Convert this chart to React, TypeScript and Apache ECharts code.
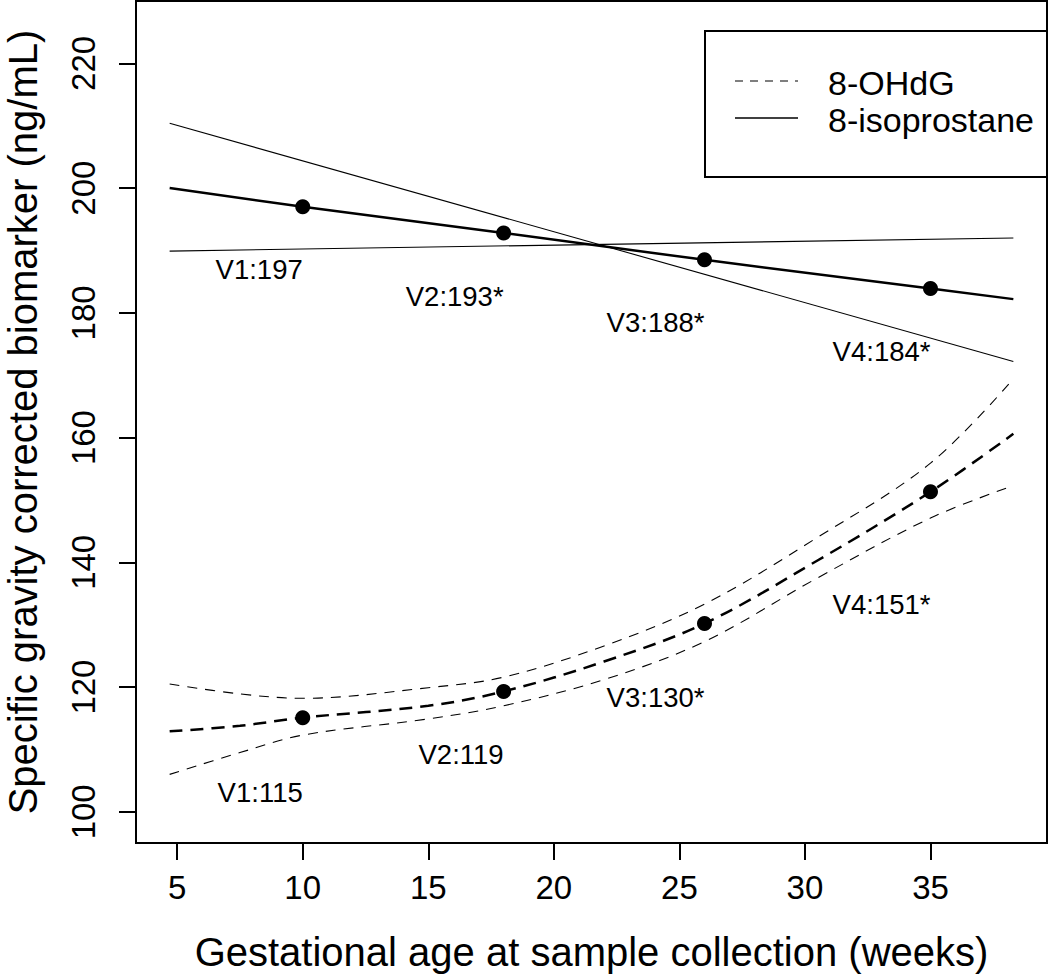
import React, { useEffect, useRef } from "react";
import * as echarts from "echarts";

// Axis ticks
const xTicks = [5, 10, 15, 20, 25, 30, 35];
const yTicks = [100, 120, 140, 160, 180, 200, 220];

// Visits (weeks) and means
const visitWeeks = [10, 18, 26, 35];
const isoMeans = [197.0, 192.8, 188.5, 183.9];
const ohdgMeans = [115.1, 119.3, 130.2, 151.3];
const isoLabels = ["V1:197", "V2:193*", "V3:188*", "V4:184*"];
const ohdgLabels = ["V1:115", "V2:119", "V3:130*", "V4:151*"];
const isoLabelY = [187.0, 182.7, 178.5, 173.8];
const ohdgLabelY = [103.1, 109.2, 118.3, 133.3];

// 8-isoprostane fitted line and bands
const isoWeeks = [4.7, 10, 18, 26, 35, 38.3];
const isoFit = [200.0, 197.0, 192.8, 188.5, 183.9, 182.2];
const isoBandWeeks = [4.7, 38.3];
const isoBandA = [210.4, 172.2];
const isoBandB = [189.9, 192.0];

// 8-OHdG fitted curve and bands
const curveWeeks = [4.7, 7.5, 10, 15, 18, 22, 26, 30.5, 35, 38.3];
const ohdgFit = [112.9, 113.8, 115.1, 117.0, 119.3, 124.1, 130.2, 140.3, 151.3, 160.6];
const ohdgUpper = [120.5, 118.9, 118.2, 119.9, 121.6, 126.6, 133.3, 144.0, 155.9, 169.4];
const ohdgLower = [106.0, 109.5, 112.3, 114.9, 117.0, 121.2, 127.3, 137.5, 147.1, 152.3];

const FONT = "'Liberation Sans', Arial, Helvetica, sans-serif";

const zip = (xs: number[], ys: number[]) => xs.map((x, i) => [x, ys[i]]);

export default function App() {
  const ref = useRef<HTMLDivElement>(null);

  useEffect(() => {
    document.body.style.margin = "0";
    if (!ref.current) return;
    const chart = echarts.init(ref.current, undefined, { renderer: "svg" });

    const lineSeries = (data: number[][], width: number, type: any, smooth: any) => ({
      type: "line",
      data,
      symbol: "none",
      smooth,
      lineStyle: { color: "#000", width, type, opacity: 1 },
      silent: true,
      z: 2,
    });

    const labelSeries = (xs: number[], ys: number[], labels: string[]) => ({
      type: "scatter",
      data: xs.map((x, i) => ({ value: [x, ys[i]], name: labels[i] })),
      symbolSize: 0,
      silent: true,
      itemStyle: { color: "#000", opacity: 1 },
      label: {
        show: true,
        position: "left",
        distance: 0,
        formatter: (p: any) => p.name,
        color: "#000",
        opacity: 1,
        fontSize: 27.5,
        fontFamily: FONT,
        align: "right",
        verticalAlign: "middle",
      },
    });

    const dotSeries = (ys: number[]) => ({
      type: "scatter",
      data: zip(visitWeeks, ys),
      symbol: "circle",
      symbolSize: 15,
      itemStyle: { color: "#000", opacity: 1 },
      silent: true,
      z: 5,
    });

    chart.setOption({
      animation: false,
      backgroundColor: "#fff",
      grid: {
        left: 136,
        right: 3,
        top: 1,
        bottom: 134,
        show: true,
        borderColor: "#000",
        borderWidth: 2,
        containLabel: false,
        outerBoundsMode: "none",
      },
      xAxis: {
        type: "value",
        min: 3.36,
        max: 39.64,
        name: "Gestational age at sample collection (weeks)",
        nameLocation: "middle",
        nameGap: 89,
        nameTextStyle: { fontSize: 40, fontFamily: FONT, color: "#000" },
        axisLine: { show: false },
        splitLine: { show: false },
        axisTick: {
          show: true,
          customValues: xTicks,
          length: 17,
          inside: false,
          lineStyle: { color: "#000", width: 2 },
        },
        axisLabel: {
          customValues: xTicks,
          margin: 28,
          fontSize: 33,
          fontFamily: FONT,
          color: "#000",
        },
      },
      yAxis: {
        type: "value",
        min: 95,
        max: 230,
        name: "Specific gravity corrected biomarker (ng/mL)",
        nameLocation: "middle",
        nameGap: 93,
        nameRotate: 90,
        nameTextStyle: { fontSize: 40, fontFamily: FONT, color: "#000" },
        axisLine: { show: false },
        splitLine: { show: false },
        axisTick: {
          show: true,
          customValues: yTicks,
          length: 17,
          inside: false,
          lineStyle: { color: "#000", width: 2 },
        },
        axisLabel: {
          customValues: yTicks,
          rotate: 90,
          margin: 36,
          fontSize: 33,
          fontFamily: FONT,
          color: "#000",
        },
      },
      series: [
        lineSeries(zip(isoBandWeeks, isoBandA), 1.1, "solid", false),
        lineSeries(zip(isoBandWeeks, isoBandB), 1.1, "solid", false),
        lineSeries(zip(isoWeeks, isoFit), 2.5, "solid", false),
        lineSeries(zip(curveWeeks, ohdgUpper), 1.1, [10, 8], 0.35),
        lineSeries(zip(curveWeeks, ohdgLower), 1.1, [10, 8], 0.35),
        lineSeries(zip(curveWeeks, ohdgFit), 2.5, [13, 8], 0.35),
        dotSeries(isoMeans),
        dotSeries(ohdgMeans),
        labelSeries(visitWeeks, isoLabelY, isoLabels),
        labelSeries(visitWeeks, ohdgLabelY, ohdgLabels),
      ],
      graphic: [
        {
          type: "rect",
          shape: { x: 705, y: 31, width: 342, height: 146 },
          style: { fill: "#fff", stroke: "#000", lineWidth: 2 },
          z: 10,
        },
        {
          type: "line",
          shape: { x1: 735, y1: 81, x2: 798, y2: 81 },
          style: { stroke: "#000", lineWidth: 1.2, lineDash: [8, 7] },
          z: 11,
        },
        {
          type: "line",
          shape: { x1: 735, y1: 118, x2: 798, y2: 118 },
          style: { stroke: "#000", lineWidth: 1.5 },
          z: 11,
        },
        {
          type: "text",
          x: 828,
          y: 83,
          style: {
            text: "8-OHdG",
            fontSize: 34,
            fontFamily: FONT,
            fill: "#000",
            verticalAlign: "middle",
          },
          z: 11,
        },
        {
          type: "text",
          x: 828,
          y: 120,
          style: {
            text: "8-isoprostane",
            fontSize: 34,
            fontFamily: FONT,
            fill: "#000",
            verticalAlign: "middle",
          },
          z: 11,
        },
      ],
    });

    return () => chart.dispose();
  }, []);

  return <div ref={ref} style={{ width: 1050, height: 977 }} />;
}
